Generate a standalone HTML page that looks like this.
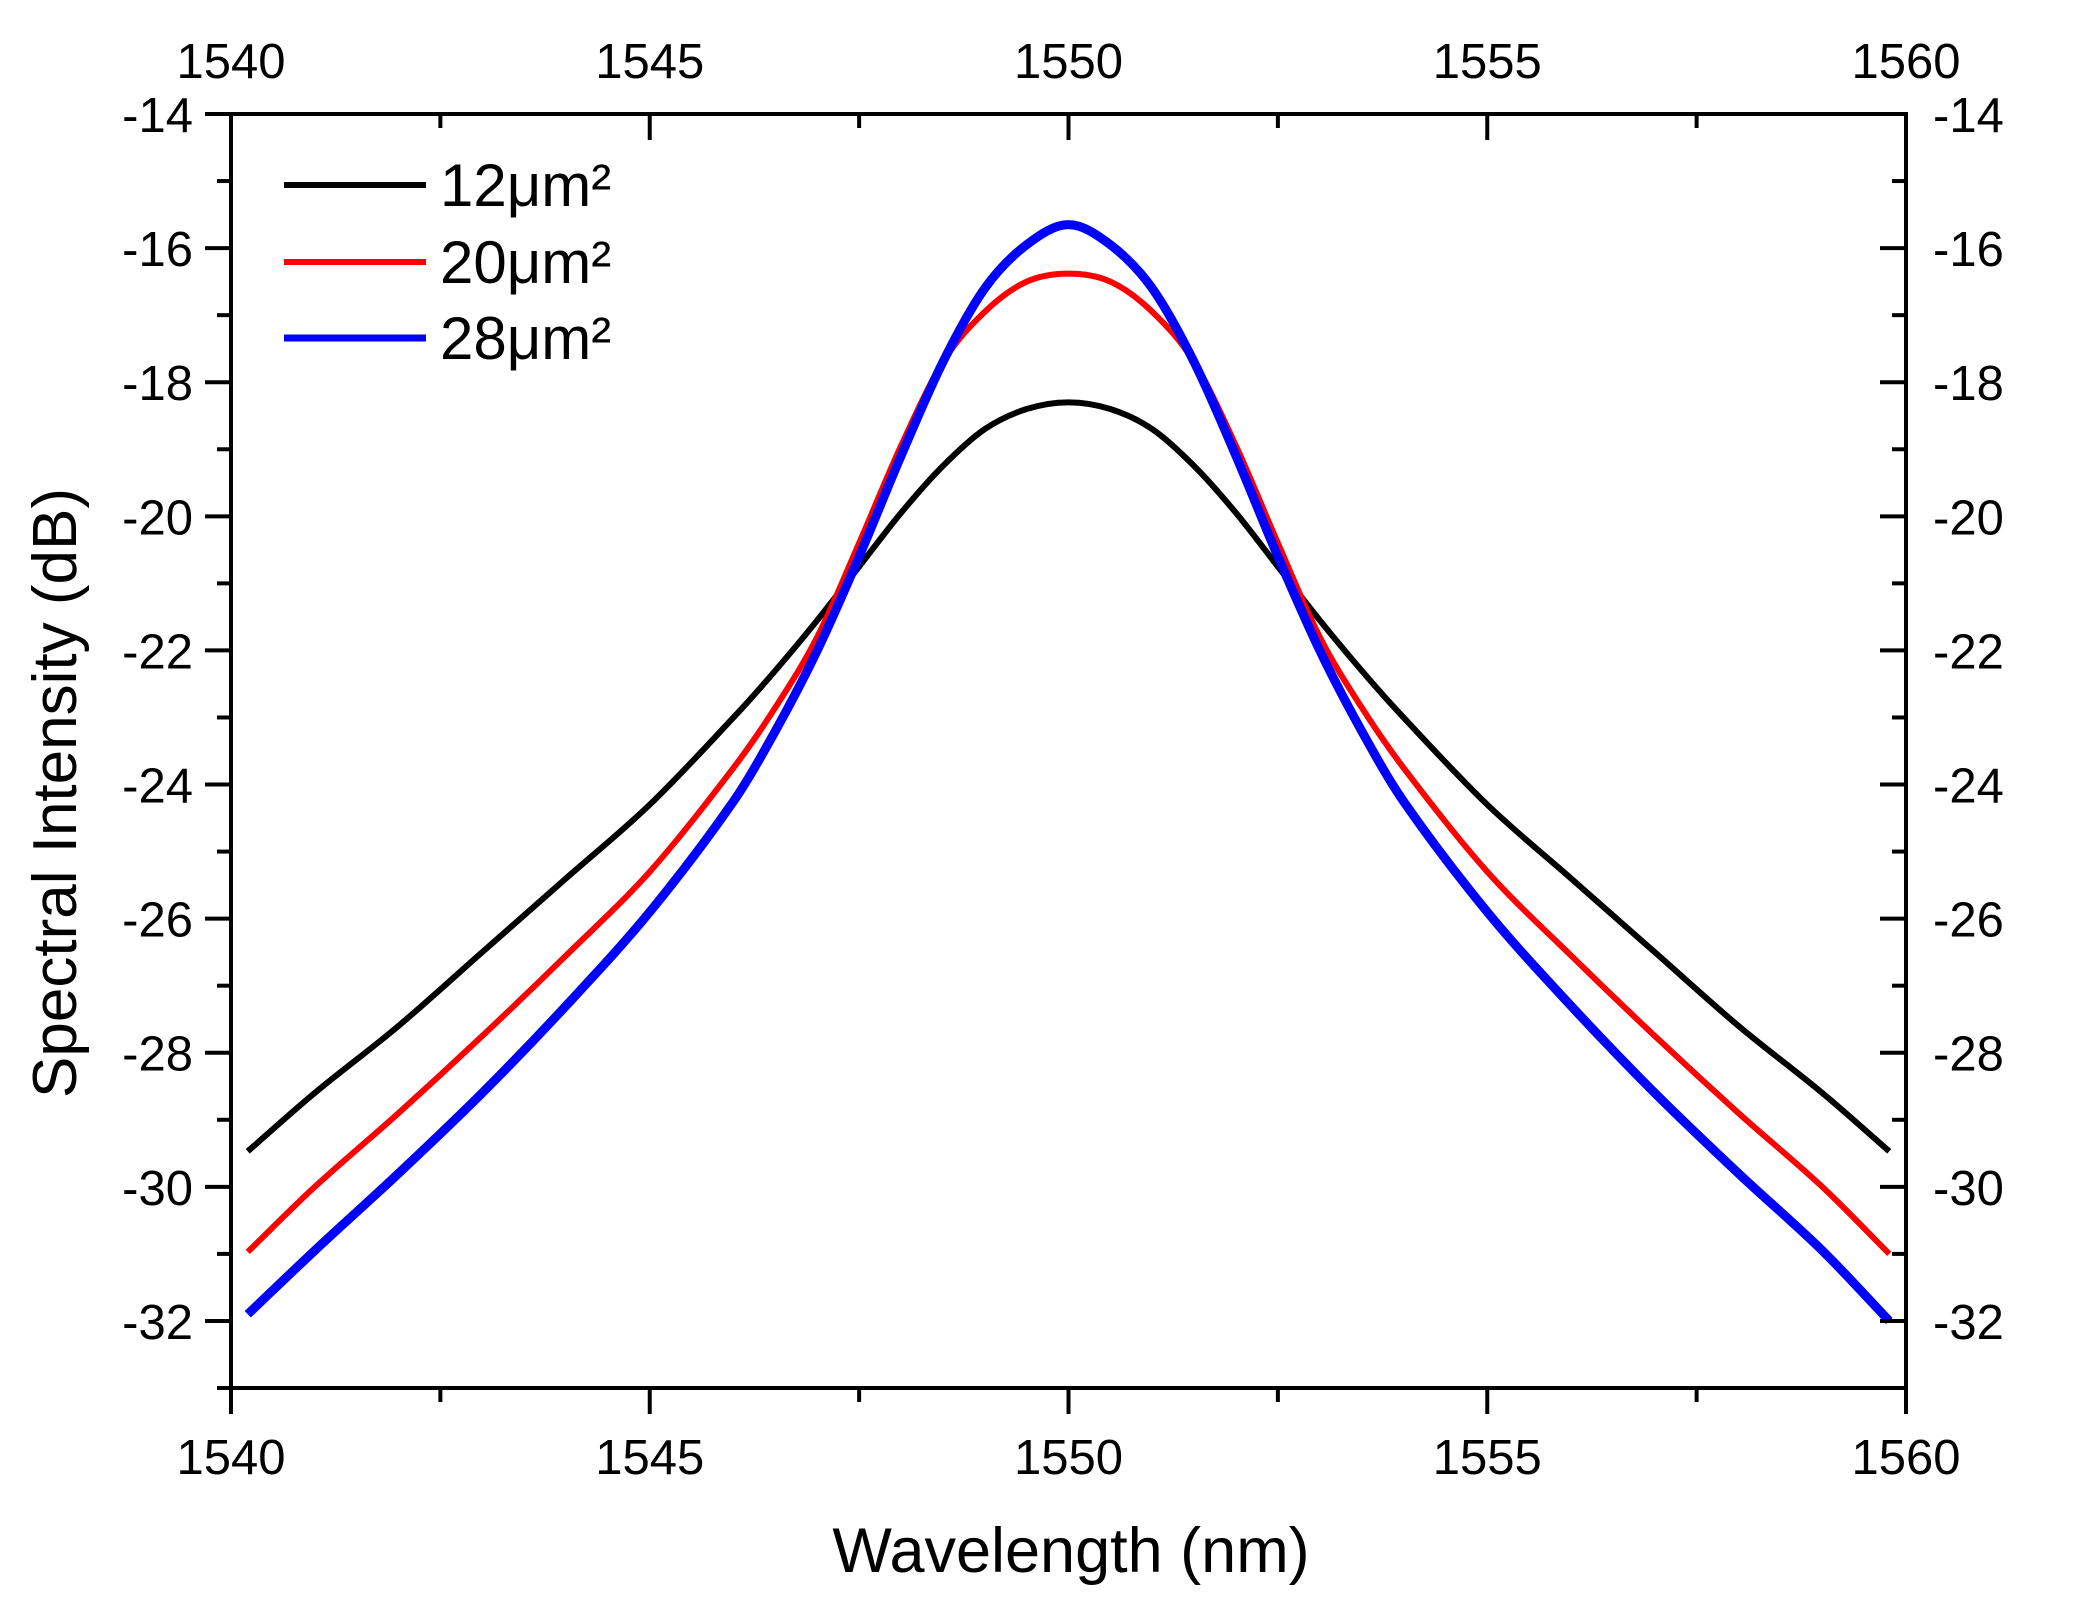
<!DOCTYPE html>
<html><head><meta charset="utf-8">
<style>
html,body{margin:0;padding:0;background:#fff;}
svg{display:block;font-family:"Liberation Sans",Arial,sans-serif;}
</style></head>
<body>
<svg id="chart" width="2073" height="1604" viewBox="0 0 2073 1604">
<rect x="0" y="0" width="2073" height="1604" fill="#fff"/>
<g id="curves"></g>
<g id="axes"></g>
<text x="1071" y="1572" font-size="63" text-anchor="middle" fill="#000">Wavelength (nm)</text>
<text transform="translate(76,793) rotate(-90)" font-size="62" text-anchor="middle" fill="#000">Spectral Intensity (dB)</text>
<g id="legend"></g>
</svg>
<script>
const wavelengths = [1540.2,1541,1542,1543,1544,1545,1546,1546.5,1547,1547.5,1548,1548.5,1549,1549.5,1550,1550.5,1551,1551.5,1552,1552.5,1553,1553.5,1554,1555,1556,1557,1558,1559,1559.8];
const series12 = [-29.47,-28.6,-27.6,-26.5,-25.4,-24.3,-23.0,-22.3,-21.55,-20.75,-19.95,-19.25,-18.7,-18.4,-18.3,-18.4,-18.7,-19.25,-19.95,-20.75,-21.55,-22.3,-23.0,-24.3,-25.4,-26.5,-27.6,-28.6,-29.47];
const series20 = [-30.97,-30.0,-28.9,-27.75,-26.55,-25.3,-23.75,-22.85,-21.8,-20.4,-18.95,-17.7,-16.95,-16.5,-16.38,-16.5,-16.95,-17.7,-18.95,-20.4,-21.8,-22.85,-23.75,-25.3,-26.55,-27.75,-28.9,-30.0,-31.0];
const series28 = [-31.9,-30.95,-29.8,-28.6,-27.3,-25.9,-24.25,-23.2,-22.0,-20.6,-19.1,-17.7,-16.6,-15.95,-15.65,-15.95,-16.6,-17.7,-19.1,-20.6,-22.0,-23.2,-24.25,-25.9,-27.3,-28.6,-29.8,-30.95,-32.0];
const seriesNames = ["12μm²","20μm²","28μm²"];
const xTicks = [1540,1545,1550,1555,1560];
const yTicks = [-14,-16,-18,-20,-22,-24,-26,-28,-30,-32];

const L=231,R=1906,T=114,B=1388;
const X0=1540,X1=1560,Y0=-33,Y1=-14;
const sx=v=>L+(v-X0)/(X1-X0)*(R-L);
const sy=v=>B-(v-Y0)/(Y1-Y0)*(B-T);
const NS="http://www.w3.org/2000/svg";
function mk(tag,attrs,parent){const e=document.createElementNS(NS,tag);for(const k in attrs)e.setAttribute(k,attrs[k]);parent.appendChild(e);return e;}

function smoothPath(xs,ys){
  const p=xs.map((x,i)=>[sx(x),sy(ys[i])]);
  let d="M"+p[0][0]+","+p[0][1];
  for(let i=0;i<p.length-1;i++){
    const p0=p[i-1]||p[i],p1=p[i],p2=p[i+1],p3=p[i+2]||p[i+1];
    const h=p2[0]-p1[0];
    const m1=(p2[1]-p0[1])/(p2[0]-p0[0]||1);
    const m2=(p3[1]-p1[1])/(p3[0]-p1[0]||1);
    const c1=[p1[0]+h/3,p1[1]+m1*h/3];
    const c2=[p2[0]-h/3,p2[1]-m2*h/3];
    d+=" C"+c1[0]+","+c1[1]+" "+c2[0]+","+c2[1]+" "+p2[0]+","+p2[1];
  }
  return d;
}
const curves=document.getElementById('curves');
const allSeries=[series12,series20,series28];
const colors=["#000","#f00","#00f"];
const widths=[6,6,9];
allSeries.forEach((s,i)=>{
  const p=mk('path',{d:smoothPath(wavelengths,s),fill:'none',stroke:colors[i],'stroke-width':widths[i],'stroke-linejoin':'round'},curves);
  
  
});

const axes=document.getElementById('axes');
const frame=mk('rect',{x:L,y:T,width:R-L,height:B-T,fill:'none',stroke:'#000','stroke-width':4},axes);


for(let v=X0;v<=X1+0.001;v+=2.5){
  const major=Math.abs(v%5)<0.01;
  const len=major?26:14;
  const x=sx(v);
  const t1=mk('line',{x1:x,y1:T,x2:x,y2:T+len,stroke:'#000','stroke-width':4},axes);
  
  
  const t2=mk('line',{x1:x,y1:B,x2:x,y2:B+len,stroke:'#000','stroke-width':4},axes);
  
  
}
xTicks.forEach(v=>{
  const a=mk('text',{x:sx(v),y:78,'font-size':49,'text-anchor':'middle',fill:'#000'},axes);
  a.textContent=v;
  
  
  const b=mk('text',{x:sx(v),y:1474,'font-size':49,'text-anchor':'middle',fill:'#000'},axes);
  b.textContent=v;
  
  
});
for(let v=Y0;v<=Y1+0.001;v+=1){
  const major=Math.abs(v%2)<0.01;
  const len=major?26:14;
  const y=sy(v);
  const t1=mk('line',{x1:L,y1:y,x2:L-len,y2:y,stroke:'#000','stroke-width':4},axes);
  
  
  const t2=mk('line',{x1:R,y1:y,x2:R-len,y2:y,stroke:'#000','stroke-width':4},axes);
  
  
}
yTicks.forEach(v=>{
  const a=mk('text',{x:193,y:sy(v)+18,'font-size':49,'text-anchor':'end',fill:'#000'},axes);
  a.textContent=v;
  
  
  const b=mk('text',{x:1933,y:sy(v)+18,'font-size':49,'text-anchor':'start',fill:'#000'},axes);
  b.textContent=v;
  
  
});

const legend=document.getElementById('legend');
const rowsY=[185,262,338];
seriesNames.forEach((n,i)=>{
  const ln=mk('line',{x1:284,y1:rowsY[i],x2:426,y2:rowsY[i],stroke:colors[i],'stroke-width':i==2?7:6},legend);
  
  
  const tx=mk('text',{x:440,y:rowsY[i]+21,'font-size':60,fill:'#000'},legend);
  tx.textContent=n;
  
  
});
</script>
</body></html>
